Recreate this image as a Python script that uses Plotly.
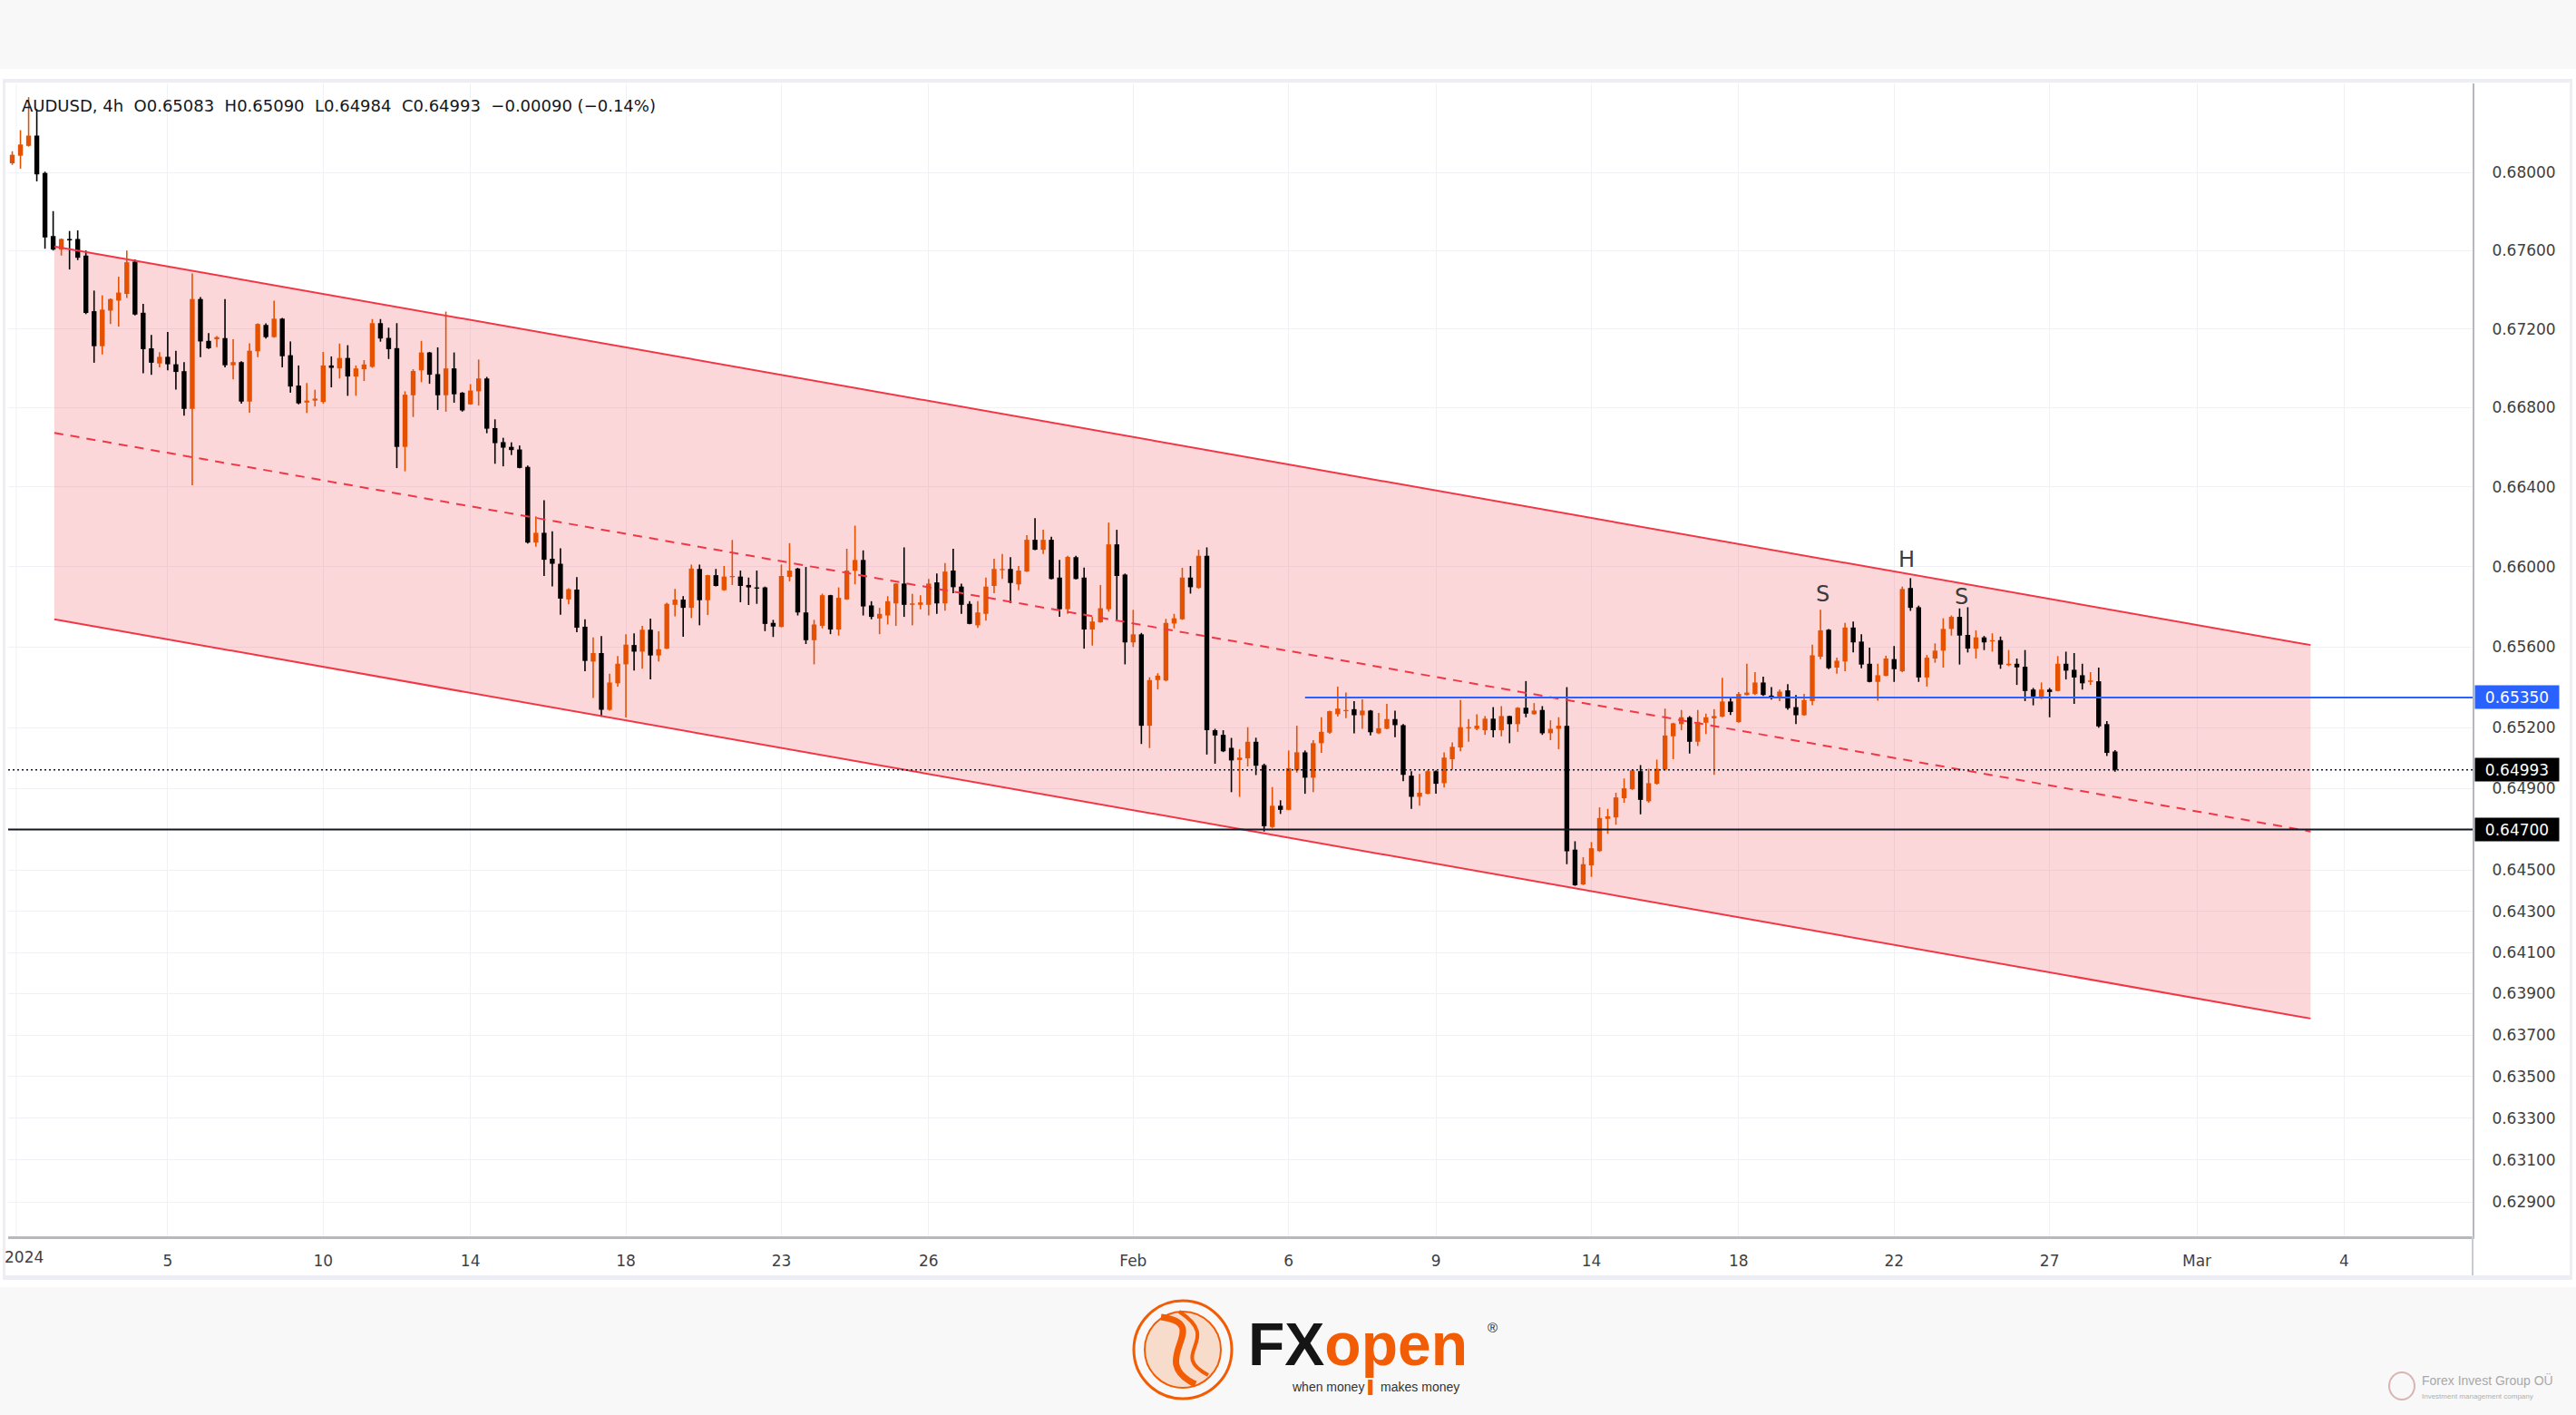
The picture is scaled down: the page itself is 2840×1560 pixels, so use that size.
import math
import plotly.graph_objects as go

# ---------------- data (AUDUSD 4h candles, index = candle number) ----------------
opens = [
 0.68048, 0.68087, 0.68138, 0.68191, 0.67998, 0.67674, 0.67605, 0.67659, 0.67659, 0.67574,
 0.67290, 0.67112, 0.67293, 0.67344, 0.67378, 0.67543, 0.67282, 0.67101, 0.67024, 0.67058,
 0.67020, 0.66985, 0.66794, 0.67352, 0.67139, 0.67147, 0.67153, 0.67015, 0.67031, 0.66831,
 0.67086, 0.67220, 0.67158, 0.67252, 0.67066, 0.66912, 0.66826, 0.66836, 0.66829, 0.67014,
 0.66999, 0.67052, 0.66958, 0.66995, 0.67007, 0.67229, 0.67154, 0.67102, 0.66602, 0.66863,
 0.66989, 0.67080, 0.66970, 0.66863, 0.66999, 0.66876, 0.66817, 0.66883, 0.66948, 0.66697,
 0.66626, 0.66602, 0.66589, 0.66501, 0.66121, 0.66170, 0.66040, 0.66015, 0.65837, 0.65886,
 0.65701, 0.65528, 0.65570, 0.65289, 0.65420, 0.65514, 0.65610, 0.65577, 0.65686, 0.65558,
 0.65592, 0.65810, 0.65836, 0.65795, 0.65989, 0.65833, 0.65958, 0.65883, 0.65948, 0.65951,
 0.65909, 0.65897, 0.65897, 0.65720, 0.65700, 0.65949, 0.65991, 0.65772, 0.65634, 0.65705,
 0.65858, 0.65687, 0.65837, 0.65980, 0.66034, 0.65807, 0.65742, 0.65757, 0.65817, 0.65916,
 0.65810, 0.65810, 0.65810, 0.65922, 0.65817, 0.65981, 0.65901, 0.65815, 0.65708, 0.65765,
 0.65904, 0.65983, 0.65989, 0.65912, 0.65976, 0.66135, 0.66085, 0.66135, 0.65946, 0.65788,
 0.66048, 0.65946, 0.65687, 0.65723, 0.65788, 0.66112, 0.65961, 0.65623, 0.65663, 0.65210,
 0.65436, 0.65434, 0.65717, 0.65738, 0.65946, 0.65894, 0.66055, 0.65188, 0.65165, 0.65101,
 0.65041, 0.65049, 0.65131, 0.65016, 0.64712, 0.64816, 0.64796, 0.64990, 0.65079, 0.64954,
 0.65124, 0.65176, 0.65267, 0.65282, 0.65292, 0.65262, 0.65285, 0.65173, 0.65195, 0.65243,
 0.65213, 0.64964, 0.64860, 0.64875, 0.64986, 0.64927, 0.65045, 0.65103, 0.65197, 0.65195,
 0.65188, 0.65245, 0.65188, 0.65258, 0.65218, 0.65299, 0.65267, 0.65288, 0.65173, 0.65195,
 0.65210, 0.64601, 0.64431, 0.64524, 0.64594, 0.64752, 0.64759, 0.64853, 0.64897, 0.64986,
 0.64838, 0.64924, 0.64994, 0.65158, 0.65218, 0.65252, 0.65131, 0.65225, 0.65247, 0.65255,
 0.65330, 0.65228, 0.65362, 0.65367, 0.65424, 0.65359, 0.65352, 0.65385, 0.65302, 0.65262,
 0.65332, 0.65552, 0.65686, 0.65498, 0.65528, 0.65697, 0.65627, 0.65517, 0.65427, 0.65457,
 0.65540, 0.65480, 0.65894, 0.65798, 0.65449, 0.65543, 0.65582, 0.65690, 0.65750, 0.65660,
 0.65592, 0.65648, 0.65628, 0.65634, 0.65510, 0.65517, 0.65502, 0.65389, 0.65352, 0.65389,
 0.65382, 0.65517, 0.65487, 0.65460, 0.65427, 0.65430, 0.65218, 0.65083]

highs = [
 0.68110, 0.68219, 0.68390, 0.68328, 0.68005, 0.67802, 0.67662, 0.67700, 0.67703, 0.67600,
 0.67395, 0.67371, 0.67355, 0.67466, 0.67600, 0.67554, 0.67327, 0.67169, 0.67081, 0.67184,
 0.67089, 0.67031, 0.67482, 0.67362, 0.67178, 0.67163, 0.67352, 0.67147, 0.67035, 0.67127,
 0.67228, 0.67228, 0.67344, 0.67256, 0.67136, 0.67014, 0.66925, 0.66891, 0.67083, 0.67060,
 0.67125, 0.67117, 0.67014, 0.67041, 0.67250, 0.67250, 0.67206, 0.67229, 0.66883, 0.66995,
 0.67139, 0.67083, 0.67106, 0.67288, 0.67080, 0.66879, 0.66919, 0.67044, 0.66956, 0.66741,
 0.66648, 0.66625, 0.66609, 0.66508, 0.66252, 0.66333, 0.66178, 0.66092, 0.65893, 0.65948,
 0.65738, 0.65648, 0.65655, 0.65467, 0.65555, 0.65663, 0.65668, 0.65705, 0.65741, 0.65678,
 0.65821, 0.65889, 0.65853, 0.66011, 0.66011, 0.65960, 0.65989, 0.66004, 0.66134, 0.65981,
 0.65946, 0.65981, 0.65901, 0.65735, 0.66011, 0.66118, 0.65995, 0.65999, 0.65735, 0.65866,
 0.65860, 0.65897, 0.66090, 0.66206, 0.66082, 0.65828, 0.65795, 0.65853, 0.65918, 0.66097,
 0.65865, 0.65858, 0.65939, 0.65966, 0.66019, 0.66090, 0.65916, 0.65828, 0.65828, 0.65946,
 0.66040, 0.66064, 0.66048, 0.66004, 0.66158, 0.66244, 0.66185, 0.66150, 0.66034, 0.66055,
 0.66055, 0.65996, 0.65750, 0.65909, 0.66221, 0.66185, 0.65966, 0.65785, 0.65670, 0.65450,
 0.65470, 0.65740, 0.65765, 0.65995, 0.66004, 0.66085, 0.66097, 0.65195, 0.65188, 0.65150,
 0.65094, 0.65203, 0.65151, 0.65023, 0.64908, 0.64843, 0.65088, 0.65210, 0.65088, 0.65139,
 0.65252, 0.65285, 0.65404, 0.65374, 0.65332, 0.65341, 0.65288, 0.65273, 0.65318, 0.65285,
 0.65218, 0.64986, 0.64972, 0.64990, 0.64990, 0.65079, 0.65128, 0.65337, 0.65243, 0.65267,
 0.65258, 0.65302, 0.65307, 0.65260, 0.65302, 0.65431, 0.65322, 0.65307, 0.65237, 0.65252,
 0.65401, 0.64642, 0.64564, 0.64638, 0.64808, 0.64801, 0.64880, 0.64950, 0.64995, 0.65016,
 0.64998, 0.65043, 0.65295, 0.65225, 0.65288, 0.65258, 0.65288, 0.65270, 0.65292, 0.65447,
 0.65352, 0.65377, 0.65517, 0.65475, 0.65453, 0.65401, 0.65389, 0.65416, 0.65362, 0.65367,
 0.65612, 0.65785, 0.65690, 0.65547, 0.65720, 0.65727, 0.65663, 0.65597, 0.65517, 0.65557,
 0.65605, 0.65901, 0.65943, 0.65806, 0.65560, 0.65618, 0.65743, 0.65757, 0.65792, 0.65798,
 0.65683, 0.65655, 0.65668, 0.65652, 0.65585, 0.65543, 0.65585, 0.65397, 0.65424, 0.65397,
 0.65555, 0.65577, 0.65570, 0.65517, 0.65475, 0.65498, 0.65233, 0.65090]

lows = [
 0.68040, 0.68020, 0.68134, 0.67955, 0.67609, 0.67600, 0.67574, 0.67503, 0.67551, 0.67275,
 0.67028, 0.67070, 0.67225, 0.67212, 0.67357, 0.67268, 0.66974, 0.66967, 0.67004, 0.66989,
 0.66892, 0.66760, 0.66409, 0.67056, 0.67098, 0.67107, 0.67004, 0.66943, 0.66820, 0.66775,
 0.67056, 0.67151, 0.67155, 0.67004, 0.66876, 0.66817, 0.66773, 0.66806, 0.66821, 0.66903,
 0.66948, 0.66860, 0.66860, 0.66935, 0.67002, 0.67135, 0.67047, 0.66495, 0.66479, 0.66753,
 0.66929, 0.66921, 0.66789, 0.66780, 0.66825, 0.66780, 0.66815, 0.66811, 0.66671, 0.66517,
 0.66504, 0.66561, 0.66494, 0.66116, 0.66100, 0.65954, 0.65902, 0.65760, 0.65813, 0.65674,
 0.65480, 0.65347, 0.65254, 0.65285, 0.65404, 0.65251, 0.65483, 0.65492, 0.65440, 0.65528,
 0.65590, 0.65753, 0.65651, 0.65744, 0.65708, 0.65759, 0.65902, 0.65880, 0.65909, 0.65823,
 0.65809, 0.65815, 0.65679, 0.65650, 0.65698, 0.65927, 0.65757, 0.65615, 0.65514, 0.65693,
 0.65664, 0.65657, 0.65835, 0.65912, 0.65757, 0.65738, 0.65664, 0.65712, 0.65705, 0.65750,
 0.65708, 0.65788, 0.65757, 0.65765, 0.65781, 0.65868, 0.65765, 0.65713, 0.65695, 0.65731,
 0.65868, 0.65939, 0.65818, 0.65883, 0.65974, 0.66083, 0.66064, 0.65937, 0.65750, 0.65765,
 0.65937, 0.65592, 0.65607, 0.65721, 0.65776, 0.65735, 0.65514, 0.65600, 0.65120, 0.65100,
 0.65390, 0.65430, 0.65693, 0.65735, 0.65866, 0.65890, 0.65068, 0.65023, 0.65080, 0.64883,
 0.64860, 0.65009, 0.64967, 0.64690, 0.64707, 0.64776, 0.64794, 0.64979, 0.64875, 0.64883,
 0.65076, 0.65170, 0.65255, 0.65247, 0.65173, 0.65195, 0.65162, 0.65169, 0.65193, 0.65153,
 0.64937, 0.64801, 0.64816, 0.64872, 0.64875, 0.64905, 0.64994, 0.65084, 0.65131, 0.65188,
 0.65165, 0.65153, 0.65158, 0.65124, 0.65180, 0.65252, 0.65265, 0.65165, 0.65139, 0.65094,
 0.64530, 0.64424, 0.64428, 0.64468, 0.64590, 0.64679, 0.64723, 0.64831, 0.64894, 0.64774,
 0.64831, 0.64920, 0.64990, 0.65045, 0.65188, 0.65073, 0.65110, 0.65169, 0.64968, 0.65252,
 0.65263, 0.65225, 0.65360, 0.65362, 0.65358, 0.65340, 0.65332, 0.65289, 0.65218, 0.65260,
 0.65311, 0.65540, 0.65490, 0.65467, 0.65480, 0.65573, 0.65495, 0.65425, 0.65334, 0.65455,
 0.65427, 0.65475, 0.65780, 0.65427, 0.65404, 0.65522, 0.65498, 0.65657, 0.65513, 0.65573,
 0.65543, 0.65585, 0.65577, 0.65492, 0.65505, 0.65412, 0.65332, 0.65311, 0.65341, 0.65252,
 0.65380, 0.65439, 0.65318, 0.65389, 0.65412, 0.65200, 0.65061, 0.64984]

closes = [
 0.68092, 0.68145, 0.68191, 0.67991, 0.67667, 0.67605, 0.67659, 0.67652, 0.67563, 0.67281,
 0.67112, 0.67298, 0.67352, 0.67385, 0.67540, 0.67273, 0.67097, 0.67028, 0.67058, 0.67020,
 0.66981, 0.66794, 0.67352, 0.67136, 0.67101, 0.67158, 0.67015, 0.67031, 0.66831, 0.67089,
 0.67225, 0.67158, 0.67252, 0.67061, 0.66907, 0.66822, 0.66836, 0.66846, 0.67014, 0.67002,
 0.67052, 0.66958, 0.66999, 0.67019, 0.67229, 0.67151, 0.67097, 0.66602, 0.66866, 0.66986,
 0.67080, 0.66967, 0.66863, 0.66999, 0.66868, 0.66786, 0.66887, 0.66948, 0.66694, 0.66621,
 0.66598, 0.66586, 0.66496, 0.66121, 0.66170, 0.66035, 0.66015, 0.65841, 0.65888, 0.65696,
 0.65531, 0.65570, 0.65289, 0.65424, 0.65517, 0.65612, 0.65577, 0.65686, 0.65558, 0.65589,
 0.65815, 0.65836, 0.65795, 0.65991, 0.65833, 0.65958, 0.65904, 0.65951, 0.65954, 0.65904,
 0.65897, 0.65891, 0.65715, 0.65702, 0.65954, 0.65981, 0.65772, 0.65634, 0.65712, 0.65858,
 0.65687, 0.65845, 0.65981, 0.66034, 0.65802, 0.65750, 0.65765, 0.65828, 0.65916, 0.65810,
 0.65817, 0.65822, 0.65916, 0.65817, 0.65976, 0.65898, 0.65810, 0.65715, 0.65772, 0.65901,
 0.65989, 0.65989, 0.65919, 0.65981, 0.66135, 0.66085, 0.66135, 0.65939, 0.65788, 0.66049,
 0.65939, 0.65687, 0.65727, 0.65793, 0.66112, 0.65954, 0.65623, 0.65663, 0.65210, 0.65436,
 0.65458, 0.65720, 0.65743, 0.65946, 0.65898, 0.66055, 0.65188, 0.65162, 0.65084, 0.65039,
 0.65053, 0.65131, 0.65013, 0.64716, 0.64816, 0.64796, 0.65001, 0.65079, 0.64954, 0.65124,
 0.65180, 0.65282, 0.65295, 0.65288, 0.65262, 0.65285, 0.65178, 0.65198, 0.65243, 0.65213,
 0.64968, 0.64860, 0.64880, 0.64986, 0.64924, 0.65053, 0.65106, 0.65203, 0.65203, 0.65210,
 0.65245, 0.65188, 0.65258, 0.65218, 0.65299, 0.65270, 0.65285, 0.65173, 0.65195, 0.65210,
 0.64593, 0.64427, 0.64530, 0.64608, 0.64756, 0.64764, 0.64857, 0.64902, 0.64990, 0.64845,
 0.64927, 0.64998, 0.65162, 0.65222, 0.65252, 0.65131, 0.65229, 0.65252, 0.65258, 0.65330,
 0.65278, 0.65367, 0.65374, 0.65424, 0.65362, 0.65353, 0.65379, 0.65297, 0.65262, 0.65337,
 0.65559, 0.65683, 0.65495, 0.65532, 0.65697, 0.65623, 0.65513, 0.65427, 0.65460, 0.65543,
 0.65490, 0.65889, 0.65795, 0.65449, 0.65547, 0.65582, 0.65690, 0.65750, 0.65657, 0.65592,
 0.65648, 0.65623, 0.65634, 0.65513, 0.65517, 0.65499, 0.65382, 0.65355, 0.65389, 0.65377,
 0.65517, 0.65483, 0.65449, 0.65420, 0.65434, 0.65207, 0.65076, 0.64993]

# time axis labels (candle index -> label); the year label sits at the pane edge
year_label = "2024"
year_label_pos = 0.5
date_tick_pos = [19, 38, 56, 75, 94, 112, 137, 156, 174, 193, 211, 230, 249, 267, 285]
date_tick_text = ["5", "10", "14", "18", "23", "26", "Feb", "6", "9", "14", "18", "22", "27", "Mar", "4"]

# price axis labels
price_ticks = [0.680, 0.676, 0.672, 0.668, 0.664, 0.660, 0.656, 0.652, 0.649,
               0.645, 0.643, 0.641, 0.639, 0.637, 0.635, 0.633, 0.631, 0.629]

# descending parallel channel (candle index, price)
channel_x = [5.14, 280.9]
channel_upper = [0.67621, 0.65610]
channel_mid = [0.66673, 0.64690]
channel_lower = [0.65738, 0.63780]

# horizontal levels
resistance_level = 0.65350
resistance_start = 158
support_level = 0.64700
last_price = 0.64993

# head & shoulders labels
pattern_text = ["S", "H", "S"]
pattern_x = [221.3, 231.5, 238.2]
pattern_y = [0.65863, 0.66034, 0.65851]

header_text = ("AUDUSD, 4h\u00a0\u00a0O0.65083\u00a0\u00a0H0.65090\u00a0\u00a0L0.64984"
               "\u00a0\u00a0C0.64993\u00a0\u00a0\u22120.00090 (\u22120.14%)")

assert len(opens) == len(highs) == len(lows) == len(closes)

# ---------------- layout geometry ----------------
W, H = 2840, 1560
ML, MR, MT, MB = 9, 114, 92, 197
PW, PH = W - ML - MR, H - MT - MB
X_RANGE = [-0.5, 300.7]
Y_RANGE = [0.627365, 0.684608]


def px(x):
    return (x - ML) / PW


def py(y):
    return (H - MB - y) / PH


BULL = "#E65100"
BEAR = "#000000"
CH_COL = "#F23645"
FONT = "DejaVu Sans"

fig = go.Figure()

# channel fill
fig.add_trace(go.Scatter(
    x=[channel_x[0], channel_x[1], channel_x[1], channel_x[0], channel_x[0]],
    y=[channel_upper[0], channel_upper[1], channel_lower[1], channel_lower[0], channel_upper[0]],
    mode="lines", fill="toself", fillcolor="rgba(242,54,69,0.2)",
    line=dict(width=0), hoverinfo="skip", showlegend=False))

# candles
n = len(opens)
min_body = 0.00003
for col, is_bull in ((BULL, True), (BEAR, False)):
    wx, wy, bx, by = [], [], [], []
    for i in range(n):
        up = closes[i] > opens[i]
        if up != is_bull:
            continue
        wx += [i, i, None]
        wy += [lows[i], highs[i], None]
        lo, hi = min(opens[i], closes[i]), max(opens[i], closes[i])
        if hi - lo < min_body:
            mid = (hi + lo) / 2
            lo, hi = mid - min_body / 2, mid + min_body / 2
        bx += [i, i, None]
        by += [lo, hi, None]
    fig.add_trace(go.Scatter(x=wx, y=wy, mode="lines", line=dict(color=col, width=1.6),
                             hoverinfo="skip", showlegend=False))
    fig.add_trace(go.Scatter(x=bx, y=by, mode="lines", line=dict(color=col, width=5.4),
                             hoverinfo="skip", showlegend=False))

# channel lines
fig.add_trace(go.Scatter(x=channel_x, y=channel_upper, mode="lines",
                         line=dict(color=CH_COL, width=2), hoverinfo="skip", showlegend=False))
fig.add_trace(go.Scatter(x=channel_x, y=channel_lower, mode="lines",
                         line=dict(color=CH_COL, width=2), hoverinfo="skip", showlegend=False))
fig.add_trace(go.Scatter(x=channel_x, y=channel_mid, mode="lines",
                         line=dict(color=CH_COL, width=2, dash="10px,8px"),
                         hoverinfo="skip", showlegend=False))

# horizontal levels
fig.add_trace(go.Scatter(x=[resistance_start, X_RANGE[1]], y=[resistance_level] * 2, mode="lines",
                         line=dict(color="#2962FF", width=2), hoverinfo="skip", showlegend=False))
fig.add_trace(go.Scatter(x=X_RANGE, y=[support_level] * 2, mode="lines",
                         line=dict(color="#131722", width=2), hoverinfo="skip", showlegend=False))
fig.add_trace(go.Scatter(x=X_RANGE, y=[last_price] * 2, mode="lines",
                         line=dict(color="#131722", width=1.5, dash="2px,3px"),
                         hoverinfo="skip", showlegend=False))

# ---------------- shapes (background / frame / logo) ----------------
shapes = [
    dict(type="rect", xref="paper", yref="paper", x0=px(0), x1=px(W), y0=py(1419), y1=py(76),
         fillcolor="white", line=dict(width=0), layer="below"),
    dict(type="rect", xref="paper", yref="paper", x0=px(5), x1=px(2836), y0=py(91), y1=py(87),
         fillcolor="#ECEEF4", line=dict(width=0), layer="below"),
    dict(type="rect", xref="paper", yref="paper", x0=px(5), x1=px(2836), y0=py(1411), y1=py(1406),
         fillcolor="#ECEEF4", line=dict(width=0), layer="below"),
    dict(type="rect", xref="paper", yref="paper", x0=px(2833), x1=px(2836), y0=py(1411), y1=py(87),
         fillcolor="#ECEEF4", line=dict(width=0), layer="below"),
    dict(type="rect", xref="paper", yref="paper", x0=px(3), x1=px(6), y0=py(1411), y1=py(87),
         fillcolor="#ECEEF4", line=dict(width=0), layer="below"),
    dict(type="line", xref="paper", yref="paper", x0=1, x1=1, y0=py(1406), y1=0,
         line=dict(color="#C9CBD2", width=2)),
    # year gridline
    dict(type="line", xref="x", yref="paper", x0=year_label_pos, x1=year_label_pos, y0=0, y1=1,
         line=dict(color="#F0F1F5", width=1), layer="below"),
    # FXOpen logo emblem
    dict(type="circle", xref="paper", yref="paper", x0=px(1250), x1=px(1358), y0=py(1542), y1=py(1434),
         fillcolor="rgba(0,0,0,0)", line=dict(color="#F25C05", width=3)),
    dict(type="circle", xref="paper", yref="paper", x0=px(1262), x1=px(1346), y0=py(1530), y1=py(1446),
         fillcolor="rgba(242,92,5,0.18)", line=dict(color="#F25C05", width=2)),
    dict(type="path", xref="paper", yref="paper",
         path=(f"M {px(1280)} {py(1452)} C {px(1340)} {py(1460)} {px(1262)} {py(1500)} "
               f"{px(1318)} {py(1526)}"),
         line=dict(color="#F25C05", width=7)),
    dict(type="path", xref="paper", yref="paper",
         path=(f"M {px(1300)} {py(1446)} C {px(1350)} {py(1478)} {px(1286)} {py(1492)} "
               f"{px(1332)} {py(1516)}"),
         line=dict(color="#F25C05", width=4)),
    dict(type="circle", xref="paper", yref="paper", x0=px(2634), x1=px(2662), y0=py(1543), y1=py(1513),
         fillcolor="rgba(0,0,0,0)", line=dict(color="#D8B4B4", width=2)),
]

# ---------------- annotations ----------------
ann = [
    dict(xref="paper", yref="paper", x=px(22), y=py(116), xanchor="left", yanchor="middle",
         text=header_text, showarrow=False, font=dict(family=FONT, size=18, color="#131722")),
    # year label at the pane's left edge
    dict(xref="paper", yref="paper", x=px(3), y=py(1386), xanchor="left", yanchor="middle",
         text=year_label, showarrow=False, font=dict(family=FONT, size=17, color="#3F3F3F")),
]
for t, xv, yv in zip(pattern_text, pattern_x, pattern_y):
    ann.append(dict(x=xv, y=math.log10(yv), xref="x", yref="y", text=t, showarrow=False,
                    font=dict(family=FONT, size=24, color="#3C3C3C"),
                    xanchor="center", yanchor="middle"))
for val, bg in ((resistance_level, "#2962FF"), (last_price, "#000000"), (support_level, "#000000")):
    ann.append(dict(x=1, xref="paper", xanchor="left", xshift=2, y=math.log10(val), yref="y",
                    yanchor="middle", text=f"{val:.5f}", showarrow=False, bgcolor=bg,
                    width=88, height=21, borderpad=2,
                    font=dict(family=FONT, size=17, color="white")))
ann += [
    dict(xref="paper", yref="paper", x=px(1374), y=py(1482), xanchor="left", yanchor="middle",
         text="<b><span style='color:#151515'>FX</span><span style='color:#F25C05'>open</span></b>",
         showarrow=False, font=dict(family="Liberation Sans", size=66)),
    dict(xref="paper", yref="paper", x=px(1645), y=py(1463), xanchor="center", yanchor="middle",
         text="\u00ae", showarrow=False, font=dict(family="Liberation Sans", size=15, color="#222")),
    dict(xref="paper", yref="paper", x=px(1516), y=py(1530), xanchor="center", yanchor="middle",
         text="when money <span style='color:#F25C05'>\u258c</span> makes money", showarrow=False,
         font=dict(family="Liberation Sans", size=14, color="#333")),
    dict(xref="paper", yref="paper", x=px(2668), y=py(1521), xanchor="left", yanchor="middle",
         text="Forex Invest Group O\u00dc", showarrow=False,
         font=dict(family="Liberation Sans", size=14, color="#A8A8A8")),
    dict(xref="paper", yref="paper", x=px(2668), y=py(1539), xanchor="left", yanchor="middle",
         text="Investment management company", showarrow=False,
         font=dict(family="Liberation Sans", size=8, color="#B0B0B0")),
]

fig.update_layout(
    width=W, height=H,
    margin=dict(l=ML, r=MR, t=MT, b=MB, pad=0),
    paper_bgcolor="#F8F8F8", plot_bgcolor="white",
    showlegend=False,
    font=dict(family=FONT, size=17, color="#3F3F3F"),
    shapes=shapes, annotations=ann,
    xaxis=dict(range=X_RANGE, tickmode="array", tickvals=date_tick_pos, ticktext=date_tick_text,
               showgrid=True, gridcolor="#F0F1F5", gridwidth=1, zeroline=False,
               showline=True, linecolor="#B6B8C0", linewidth=3, ticks="",
               ticklabelstandoff=10, automargin=False,
               tickfont=dict(family=FONT, size=17, color="#3F3F3F"),
               fixedrange=True),
    yaxis=dict(type="log", side="right",
               range=[math.log10(Y_RANGE[0]), math.log10(Y_RANGE[1])],
               tickmode="array", tickvals=price_ticks, ticktext=[f"{v:.5f}" for v in price_ticks],
               showgrid=True, gridcolor="#F0F1F5", gridwidth=1, zeroline=False,
               showline=True, linecolor="#B6B8C0", linewidth=2, ticks="",
               ticklabelstandoff=16, automargin=False,
               tickfont=dict(family=FONT, size=17, color="#3F3F3F"),
               fixedrange=True),
)

fig.write_html(
    "out.html",
    config={"displayModeBar": False},
    post_script="document.body.style.margin='0';document.body.style.padding='0';"
                "document.body.style.background='#F8F8F8';",
)
